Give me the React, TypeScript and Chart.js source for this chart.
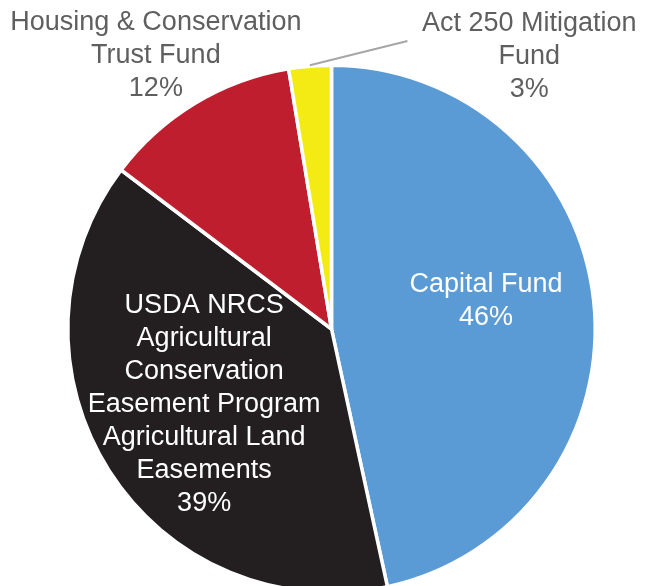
import React, { useEffect, useRef } from "react";
import { Chart, registerables } from "chart.js";

Chart.register(...registerables);

const categories = [
  "Capital Fund",
  "USDA NRCS Agricultural Conservation Easement Program Agricultural Land Easements",
  "Housing & Conservation Trust Fund",
  "Act 250 Mitigation Fund",
];
const values = [46.6, 38.7, 12.1, 2.6];
const percentLabels = ["46%", "39%", "12%", "3%"];
const labelLines = [
  ["Capital Fund"],
  ["USDA NRCS", "Agricultural", "Conservation", "Easement Program", "Agricultural Land", "Easements"],
  ["Housing & Conservation", "Trust Fund"],
  ["Act 250 Mitigation", "Fund"],
];
const colors = ["#5B9BD5", "#231F20", "#BE1E2D", "#F5EB14"];
const labelColors = ["#FFFFFF", "#FFFFFF", "#5F5F5F", "#5F5F5F"];
// label anchor (first baseline) relative to pie center, in radius units
const labelAnchors = [
  [0.586, -0.142],
  [-0.483, -0.061],
  [-0.666, -1.134],
  [0.75, -1.13],
];
const leaderIndex = 3;
const leaderEnd = [0.288, -1.092];

const FONT = '27px "Liberation Sans", Arial, sans-serif';
const LINE_H = 33;

const labelPlugin = {
  id: "pieLabels",
  afterDraw(chart: any) {
    const meta = chart.getDatasetMeta(0);
    const ctx = chart.ctx;
    const arc0 = meta.data[0];
    const cx = arc0.x;
    const cy = arc0.y;
    const r = arc0.outerRadius;
    ctx.save();
    const la = meta.data[leaderIndex];
    const mid = (la.startAngle + la.endAngle) / 2;
    ctx.strokeStyle = "#A6A6A6";
    ctx.lineWidth = 2;
    ctx.beginPath();
    ctx.moveTo(cx + Math.cos(mid) * (r + 1), cy + Math.sin(mid) * (r + 1));
    ctx.lineTo(cx + leaderEnd[0] * r, cy + leaderEnd[1] * r);
    ctx.stroke();

    ctx.font = FONT;
    ctx.textAlign = "center";
    ctx.textBaseline = "alphabetic";
    labelLines.forEach((lines, i) => {
      const all = [...lines, percentLabels[i]];
      const x = cx + labelAnchors[i][0] * r;
      const y0 = cy + labelAnchors[i][1] * r;
      ctx.fillStyle = labelColors[i];
      all.forEach((t, j) => ctx.fillText(t, x, y0 + j * LINE_H));
    });
    ctx.restore();
  },
};

export default function App() {
  const ref = useRef<HTMLCanvasElement>(null);
  useEffect(() => {
    const chart = new Chart(ref.current!, {
      type: "pie",
      data: {
        labels: categories,
        datasets: [
          {
            data: values,
            backgroundColor: colors,
            borderColor: "#FFFFFF",
            borderWidth: 3.5,
          },
        ],
      },
      options: {
        responsive: false,
        animation: false,
        devicePixelRatio: 1,
        radius: 263.7,
        layout: { padding: { left: 16, right: 0, top: 18, bottom: 0 } },
        plugins: { legend: { display: false }, tooltip: { enabled: false } },
      } as any,
      plugins: [labelPlugin],
    });
    return () => chart.destroy();
  }, []);
  return (
    <div style={{ position: "fixed", left: 0, top: 0, width: 647, height: 586, overflow: "hidden", background: "#fff" }}>
      <canvas ref={ref} width={647} height={640} style={{ display: "block" }} />
    </div>
  );
}
